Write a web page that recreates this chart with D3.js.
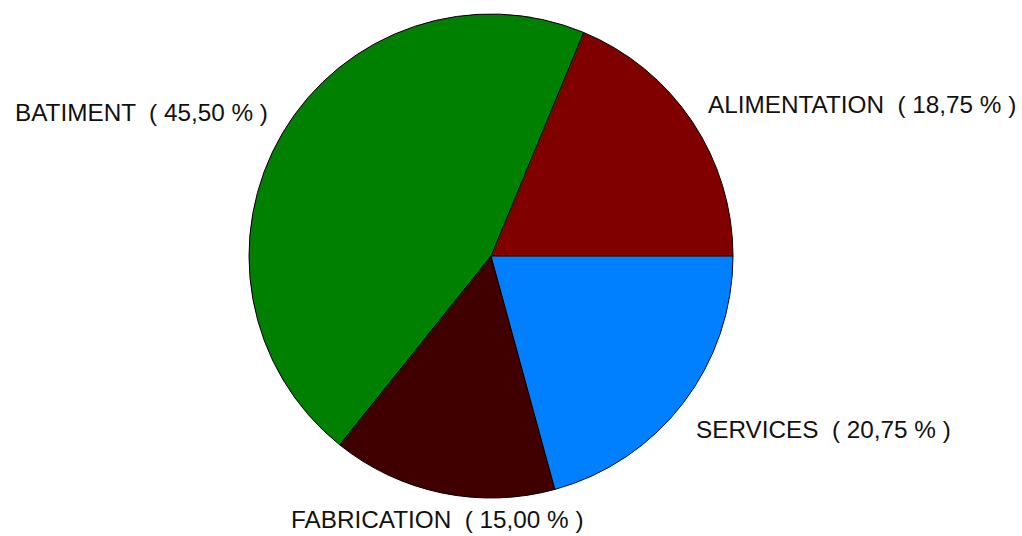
<!DOCTYPE html>
<html>
<head>
<meta charset="utf-8">
<script src="https://cdn.jsdelivr.net/npm/d3@7"></script>
<style>
  body { margin: 0; background: #fff; }
  .label { font-family: "Liberation Sans", Arial, sans-serif; font-size: 24.3px; fill: #111; }
</style>
</head>
<body>
<script>
// pie of activity sectors
const width = 1022, height = 536

const sectors = ["ALIMENTATION", "BATIMENT", "FABRICATION", "SERVICES"]
const shares = [18.75, 45.50, 15.00, 20.75]
const colors = ["#800000", "#008000", "#400000", "#0080FF"]

// label anchors (left x, baseline y)
const labelPos = [[708, 113], [15, 121], [291, 528], [696, 438]]

const cx = 491, cy = 256, radius = 242

const data = sectors.map(function(s, i){
  return { name: s, value: shares[i], color: colors[i], pos: labelPos[i] }
})

const pie = d3.pie()
    .sort(null)
    .value(function(d){ return d.value })
    .startAngle(Math.PI / 2)
    .endAngle(Math.PI / 2 - 2 * Math.PI)

const arc = d3.arc()
    .innerRadius(0)
    .outerRadius(radius)

const fmt = function(v){ return v.toFixed(2).replace(".", ",") }

const svg = d3.select("body").append("svg")
    .attr("width", width)
    .attr("height", height)

const g = svg.append("g")
    .attr("transform", "translate(" + cx + "," + cy + ")")

g.selectAll(".slice")
    .data(pie(data))
    .enter()
    .append("path")
      .attr("class", "slice")
      .attr("d", arc)
      .style("fill", function(d){ return d.data.color })
      .style("stroke", "#000")
      .style("stroke-width", 1)

svg.selectAll(".label")
    .data(data)
    .enter()
    .append("text")
      .attr("class", "label")
      .attr("x", function(d){ return d.pos[0] })
      .attr("y", function(d){ return d.pos[1] })
      .attr("xml:space", "preserve")
      .style("white-space", "pre")
      .text(function(d){ return d.name + "  ( " + fmt(d.value) + " % )" })
</script>
</body>
</html>
